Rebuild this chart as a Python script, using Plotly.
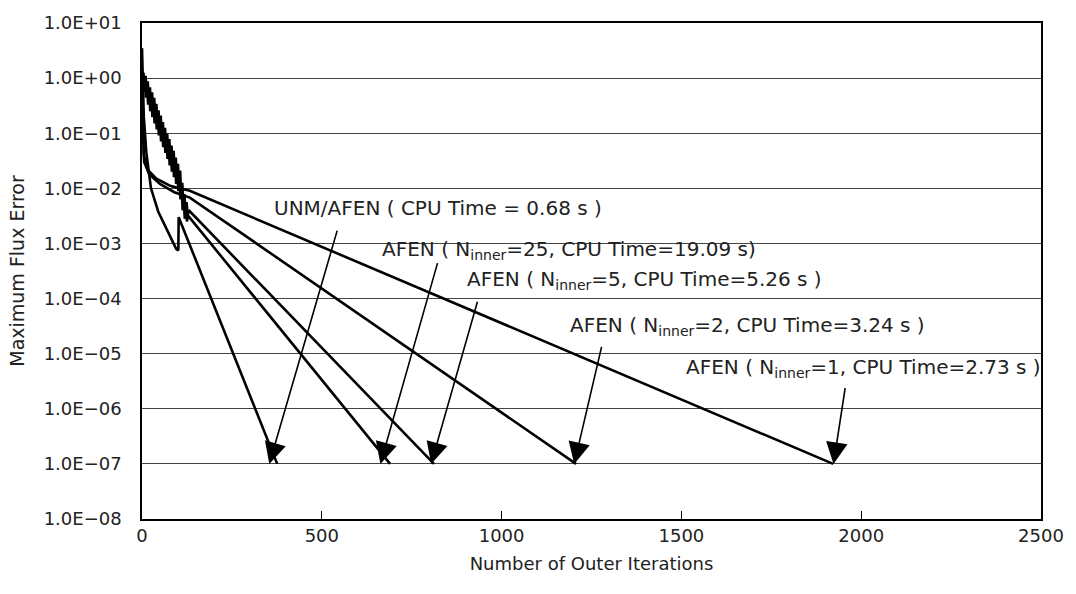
import plotly.graph_objects as go

# ---- data ----
unm_x = [0, 2, 5, 12, 25, 45, 70, 95, 101, 102, 376]
unm_y = [3.5, 1.0, 0.2, 4.5e-2, 1.0e-2, 3.8e-3, 1.8e-3, 8.0e-4, 7.5e-4, 3.0e-3, 1.0e-7]

n1_x = [0, 2, 5, 15, 40, 80, 133, 1922]
n1_y = [1.0, 0.2, 4.0e-2, 2.2e-2, 1.5e-2, 1.1e-2, 9.0e-3, 1.0e-7]

n2_x = [0, 2, 6, 20, 50, 90, 133, 1207]
n2_y = [1.0, 0.15, 3.0e-2, 1.8e-2, 1.2e-2, 8.5e-3, 6.8e-3, 1.0e-7]

n5_x = [0, 4, 7, 10, 13, 16, 19, 22, 25, 28, 31, 34, 37, 40, 43, 46, 49, 52, 55,
        58, 61, 64, 67, 70, 73, 76, 79, 82, 85, 88, 91, 94, 97, 100, 103, 106,
        109, 112, 115, 118, 121, 124, 127, 130, 812]
n5_y = [1.0, 1.26, 0.63, 1.10, 0.49, 0.87, 0.38, 0.68, 0.29, 0.55, 0.22, 0.44,
        0.17, 0.34, 0.135, 0.26, 0.105, 0.21, 8.1e-2, 0.16, 6.5e-2, 0.126,
        5.0e-2, 0.10, 3.9e-2, 7.8e-2, 3.1e-2, 6.0e-2, 2.4e-2, 4.8e-2, 1.9e-2,
        3.6e-2, 1.4e-2, 2.8e-2, 1.0e-2, 2.1e-2, 7.1e-3, 1.26e-2, 5.0e-3, 7.9e-3,
        3.5e-3, 5.6e-3, 3.2e-3, 4.0e-3, 1.0e-7]

n25_x = [0, 2, 5, 8, 11, 14, 17, 20, 23, 26, 29, 32, 35, 38, 41, 44, 47, 50, 53,
         56, 59, 62, 65, 68, 71, 74, 77, 80, 83, 86, 89, 92, 95, 98, 101, 104,
         107, 110, 113, 116, 119, 122, 125, 128, 690]
n25_y = [1.0, 0.89, 0.56, 1.0, 0.44, 0.76, 0.33, 0.59, 0.25, 0.47, 0.195, 0.36,
         0.15, 0.28, 0.117, 0.22, 9.1e-2, 0.17, 7.1e-2, 0.138, 5.6e-2, 0.107,
         4.4e-2, 8.3e-2, 3.4e-2, 6.5e-2, 2.6e-2, 5.0e-2, 2.0e-2, 3.9e-2, 1.6e-2,
         3.0e-2, 1.2e-2, 2.3e-2, 8.9e-3, 1.66e-2, 6.3e-3, 1.12e-2, 4.0e-3, 6.3e-3,
         2.8e-3, 4.5e-3, 2.5e-3, 3.2e-3, 1.0e-7]

x_ticks = [0, 500, 1000, 1500, 2000, 2500]
y_ticks = [1e1, 1e0, 1e-1, 1e-2, 1e-3, 1e-4, 1e-5, 1e-6, 1e-7, 1e-8]
y_tick_text = ["1.0E+01", "1.0E+00", "1.0E\u221201", "1.0E\u221202", "1.0E\u221203",
               "1.0E\u221204", "1.0E\u221205", "1.0E\u221206", "1.0E\u221207", "1.0E\u221208"]

labels = ["UNM/AFEN ( CPU Time = 0.68 s )",
          "AFEN ( N<sub>inner</sub>=25, CPU Time=19.09 s)",
          "AFEN ( N<sub>inner</sub>=5, CPU Time=5.26 s )",
          "AFEN ( N<sub>inner</sub>=2, CPU Time=3.24 s )",
          "AFEN ( N<sub>inner</sub>=1, CPU Time=2.73 s )"]
# label left edge (x, log10 y), arrow tail (x, log10 y), arrow tip (x, log10 y)
label_pos = [(362, -2.35), (663, -3.12), (898, -3.66), (1185, -4.49), (1506, -5.26)]
arrow_tail = [(544, -2.74), (823, -3.33), (934, -4.03), (1279, -4.85), (1956, -5.60)]
arrow_tip = [(354, -7.0), (663, -7.0), (804, -7.0), (1202, -7.0), (1923, -7.0)]
# white text-box backgrounds that hide grid lines (paper coords: x0, x1, y0, y1)
label_boxes = [(0.2575, 0.6884, 0.5169, 0.5706), (0.3514, 0.7657, 0.4354, 0.5109)]

FONT = "DejaVu Sans"

fig = go.Figure()
for xs, ys in [(unm_x, unm_y), (n25_x, n25_y), (n5_x, n5_y), (n2_x, n2_y), (n1_x, n1_y)]:
    fig.add_trace(go.Scatter(x=xs, y=ys, mode="lines",
                             line=dict(color="black", width=2.6),
                             showlegend=False, hoverinfo="skip"))

for x0, x1, y0, y1 in label_boxes:
    fig.add_shape(type="rect", xref="paper", yref="paper", x0=x0, x1=x1,
                  y0=y0, y1=y1, fillcolor="white", line=dict(width=0),
                  layer="between")

annotations = []
for (tx, ty), (hx, hy) in zip(arrow_tail, arrow_tip):
    annotations.append(dict(x=hx, y=hy, xref="x", yref="y", ax=tx, ay=ty,
                            axref="x", ayref="y", text="", showarrow=True,
                            arrowhead=2, arrowsize=2.7, arrowwidth=1.6,
                            arrowcolor="black", standoff=0, startstandoff=0))
for txt, (lx, ly) in zip(labels, label_pos):
    annotations.append(dict(x=lx, y=ly, xref="x", yref="y", text=txt,
                            xanchor="left", showarrow=False,
                            font=dict(family=FONT, size=20, color="#222")))

fig.update_layout(
    width=1076, height=594,
    margin=dict(l=142, r=29, t=16, b=75),
    paper_bgcolor="white", plot_bgcolor="white",
    font=dict(family=FONT, size=18, color="#222"),
    annotations=annotations,
    xaxis=dict(range=[0, 2500], tickvals=x_ticks, ticks="inside", ticklen=8,
               tickcolor="black", showgrid=False, zeroline=False,
               showline=True, mirror=True, linecolor="black", linewidth=1.5,
               title=dict(text="Number of Outer Iterations", standoff=12,
                          font=dict(size=18))),
    yaxis=dict(type="log", range=[-8, 1], tickvals=y_ticks, ticktext=y_tick_text,
               ticks="", showgrid=True, gridcolor="#444", gridwidth=1,
               zeroline=False, showline=True, mirror=True, linecolor="black",
               linewidth=1.5, ticklabelstandoff=15,
               title=dict(text="Maximum Flux Error", standoff=14,
                          font=dict(size=19))),
)

fig.write_html("out.html", config={"displayModeBar": False},
               post_script="document.body.style.margin='0px';")
